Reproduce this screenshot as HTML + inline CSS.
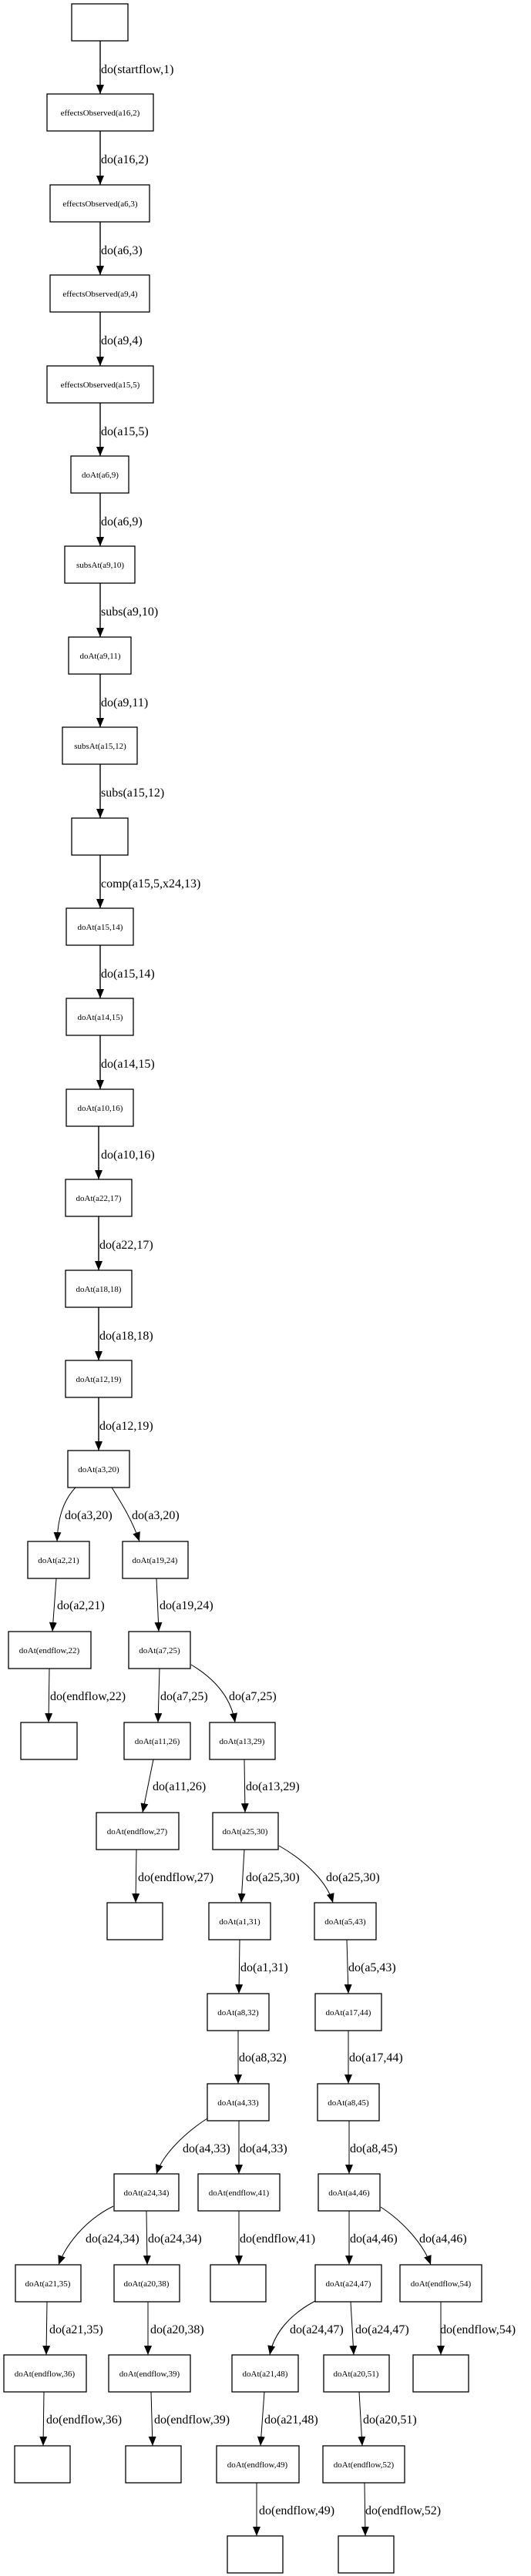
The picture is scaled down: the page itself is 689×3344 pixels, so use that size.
<!DOCTYPE html>
<html><head><meta charset="utf-8"><style>
html,body{margin:0;padding:0;background:#fff}
svg{display:block}
.n{fill:#fff;stroke:#000;stroke-width:1.3}
.t{font-family:"Liberation Serif",serif;font-size:11px;text-anchor:middle}
.l{font-family:"Liberation Serif",serif;font-size:16px}
.e{fill:none;stroke:#000;stroke-width:1.4}
.c{fill:none;stroke:#000;stroke-width:1}
</style></head><body>
<svg width="689" height="3344" viewBox="0 0 689 3344" xmlns="http://www.w3.org/2000/svg">
<defs>
<marker id="b" markerWidth="12" markerHeight="10" refX="12" refY="5" orient="auto" markerUnits="userSpaceOnUse"><path d="M0,0 L12,5 L0,10 z" fill="#000"/></marker></defs>

<rect class="n" x="93" y="5" width="73" height="48"/>
<rect class="n" x="61" y="122" width="138" height="48"/><text class="t" x="130" y="150">effectsObserved(a16,2)</text>
<rect class="n" x="65" y="240" width="129" height="48"/><text class="t" x="130" y="268">effectsObserved(a6,3)</text>
<rect class="n" x="65" y="357" width="129" height="48"/><text class="t" x="130" y="385">effectsObserved(a9,4)</text>
<rect class="n" x="61" y="475" width="138" height="48"/><text class="t" x="130" y="503">effectsObserved(a15,5)</text>
<rect class="n" x="92" y="592" width="75" height="48"/><text class="t" x="130" y="620">doAt(a6,9)</text>
<rect class="n" x="84" y="709" width="91" height="48"/><text class="t" x="130" y="737">subsAt(a9,10)</text>
<rect class="n" x="89" y="827" width="81" height="48"/><text class="t" x="130" y="855">doAt(a9,11)</text>
<rect class="n" x="81" y="944" width="97" height="48"/><text class="t" x="130" y="972">subsAt(a15,12)</text>
<rect class="n" x="93" y="1062" width="73" height="48"/>
<rect class="n" x="86" y="1179" width="87" height="48"/><text class="t" x="130" y="1207">doAt(a15,14)</text>
<rect class="n" x="86" y="1296" width="87" height="48"/><text class="t" x="130" y="1324">doAt(a14,15)</text>
<rect class="n" x="86" y="1414" width="87" height="48"/><text class="t" x="130" y="1442">doAt(a10,16)</text>
<rect class="n" x="85" y="1531" width="86" height="48"/><text class="t" x="128" y="1559">doAt(a22,17)</text>
<rect class="n" x="85" y="1649" width="86" height="48"/><text class="t" x="128" y="1677">doAt(a18,18)</text>
<rect class="n" x="85" y="1766" width="86" height="48"/><text class="t" x="128" y="1794">doAt(a12,19)</text>
<rect class="n" x="88" y="1883" width="80" height="48"/><text class="t" x="128" y="1911">doAt(a3,20)</text>

<g class="e" marker-end="url(#b)">
<path d="M130,53 V122"/><path d="M130,170 V240"/><path d="M130,288 V357"/><path d="M130,405 V475"/><path d="M130,523 V592"/>
<path d="M130,640 V709"/><path d="M130,757 V827"/><path d="M130,875 V944"/><path d="M130,992 V1062"/><path d="M130,1110 V1179"/>
<path d="M130,1227 V1296"/><path d="M130,1344 V1414"/><path d="M128,1462 V1531"/><path d="M128,1579 V1649"/><path d="M128,1697 V1766"/><path d="M128,1814 V1883"/>
</g>
<g class="l">
<text x="131" y="95">do(startflow,1)</text>
<text x="131" y="212">do(a16,2)</text>
<text x="131" y="330">do(a6,3)</text>
<text x="131" y="447">do(a9,4)</text>
<text x="131" y="565">do(a15,5)</text>
<text x="131" y="682">do(a6,9)</text>
<text x="131" y="799">subs(a9,10)</text>
<text x="131" y="917">do(a9,11)</text>
<text x="131" y="1034">subs(a15,12)</text>
<text x="131" y="1152">comp(a15,5,x24,13)</text>
<text x="131" y="1269">do(a15,14)</text>
<text x="131" y="1386">do(a14,15)</text>
<text x="131" y="1504">do(a10,16)</text>
<text x="129" y="1621">do(a22,17)</text>
<text x="129" y="1739">do(a18,18)</text>
<text x="129" y="1856">do(a12,19)</text>
</g>

<rect class="n" x="36" y="2001" width="80" height="48"/><text class="t" x="76" y="2029">doAt(a2,21)</text>
<rect class="n" x="159" y="2001" width="85" height="48"/><text class="t" x="201" y="2029">doAt(a19,24)</text>
<rect class="n" x="11" y="2118" width="107" height="48"/><text class="t" x="64" y="2146">doAt(endflow,22)</text>
<rect class="n" x="167" y="2118" width="80" height="48"/><text class="t" x="207" y="2146">doAt(a7,25)</text>
<rect class="n" x="27" y="2236" width="73" height="48"/>
<rect class="n" x="161" y="2236" width="86" height="48"/><text class="t" x="204" y="2264">doAt(a11,26)</text>
<rect class="n" x="272" y="2236" width="85" height="48"/><text class="t" x="314" y="2264">doAt(a13,29)</text>
<rect class="n" x="125" y="2353" width="107" height="48"/><text class="t" x="178" y="2381">doAt(endflow,27)</text>
<rect class="n" x="276" y="2353" width="85" height="48"/><text class="t" x="318" y="2381">doAt(a25,30)</text>
<rect class="n" x="139" y="2470" width="72" height="48"/>
<rect class="n" x="271" y="2470" width="80" height="48"/><text class="t" x="311" y="2498">doAt(a1,31)</text>
<rect class="n" x="408" y="2470" width="80" height="48"/><text class="t" x="448" y="2498">doAt(a5,43)</text>
<rect class="n" x="269" y="2588" width="80" height="48"/><text class="t" x="309" y="2616">doAt(a8,32)</text>
<rect class="n" x="409" y="2588" width="86" height="48"/><text class="t" x="452" y="2616">doAt(a17,44)</text>
<rect class="n" x="269" y="2705" width="80" height="48"/><text class="t" x="309" y="2733">doAt(a4,33)</text>
<rect class="n" x="412" y="2705" width="80" height="48"/><text class="t" x="452" y="2733">doAt(a8,45)</text>
<rect class="n" x="148" y="2822" width="84" height="48"/><text class="t" x="190" y="2850">doAt(a24,34)</text>
<rect class="n" x="257" y="2822" width="106" height="48"/><text class="t" x="310" y="2850">doAt(endflow,41)</text>
<rect class="n" x="413" y="2822" width="80" height="48"/><text class="t" x="453" y="2850">doAt(a4,46)</text>
<rect class="n" x="20" y="2940" width="85" height="48"/><text class="t" x="62" y="2968">doAt(a21,35)</text>
<rect class="n" x="148" y="2940" width="85" height="48"/><text class="t" x="190" y="2968">doAt(a20,38)</text>
<rect class="n" x="273" y="2940" width="72" height="48"/>
<rect class="n" x="409" y="2940" width="86" height="48"/><text class="t" x="452" y="2968">doAt(a24,47)</text>
<rect class="n" x="519" y="2940" width="106" height="48"/><text class="t" x="572" y="2968">doAt(endflow,54)</text>
<rect class="n" x="5" y="3057" width="107" height="48"/><text class="t" x="58" y="3085">doAt(endflow,36)</text>
<rect class="n" x="141" y="3057" width="106" height="48"/><text class="t" x="194" y="3085">doAt(endflow,39)</text>
<rect class="n" x="301" y="3057" width="86" height="48"/><text class="t" x="344" y="3085">doAt(a21,48)</text>
<rect class="n" x="420" y="3057" width="85" height="48"/><text class="t" x="462" y="3085">doAt(a20,51)</text>
<rect class="n" x="536" y="3057" width="72" height="48"/>
<rect class="n" x="19" y="3175" width="72" height="48"/>
<rect class="n" x="163" y="3175" width="72" height="48"/>
<rect class="n" x="281" y="3175" width="107" height="48"/><text class="t" x="334" y="3203">doAt(endflow,49)</text>
<rect class="n" x="419" y="3175" width="106" height="48"/><text class="t" x="472" y="3203">doAt(endflow,52)</text>
<rect class="n" x="295" y="3292" width="72" height="48"/>
<rect class="n" x="439" y="3292" width="72" height="48"/>

<g class="c" marker-end="url(#b)">
<path d="M98,1931 C80,1950 75,1975 74,2001"/>
<path d="M145,1931 C160,1955 172,1975 181,2001"/>
<path d="M73,2049 L68,2118"/>
<path d="M203,2049 L206,2118"/>
<path d="M64,2166 L63,2236"/>
<path d="M207,2166 L205,2236"/>
<path d="M248,2161 C280,2180 300,2205 305,2236"/>
<path d="M199,2284 L185,2353"/>
<path d="M317,2284 L318,2353"/>
<path d="M177,2401 L176,2470"/>
<path d="M317,2401 L313,2470"/>
<path d="M362,2396 C400,2418 425,2445 432,2470"/>
<path d="M311,2518 L310,2588"/>
<path d="M450,2518 L452,2588"/>
<path d="M309,2636 L309,2705"/>
<path d="M452,2636 L452,2705"/>
<path d="M269,2750 C235,2772 210,2800 203,2822"/>
<path d="M310,2753 L310,2822"/>
<path d="M453,2753 L453,2822"/>
<path d="M147,2864 C110,2882 85,2915 76,2940"/>
<path d="M190,2870 L191,2940"/>
<path d="M310,2870 L310,2940"/>
<path d="M453,2870 L453,2940"/>
<path d="M494,2865 C525,2885 550,2915 559,2940"/>
<path d="M61,2988 L60,3057"/>
<path d="M192,2988 L192,3057"/>
<path d="M409,2987 C375,3005 355,3030 350,3057"/>
<path d="M455,2988 L459,3057"/>
<path d="M572,2988 L572,3057"/>
<path d="M57,3105 L56,3175"/>
<path d="M196,3105 L198,3175"/>
<path d="M343,3105 L338,3175"/>
<path d="M466,3105 L470,3175"/>
<path d="M333,3223 L333,3292"/>
<path d="M473,3223 L474,3292"/>
</g>
<g class="l">
<text x="84" y="1972">do(a3,20)</text>
<text x="171" y="1972">do(a3,20)</text>
<text x="74" y="2089">do(a2,21)</text>
<text x="207" y="2089">do(a19,24)</text>
<text x="65" y="2207">do(endflow,22)</text>
<text x="208" y="2207">do(a7,25)</text>
<text x="297" y="2207">do(a7,25)</text>
<text x="198" y="2324">do(a11,26)</text>
<text x="319" y="2324">do(a13,29)</text>
<text x="179" y="2442">do(endflow,27)</text>
<text x="319" y="2442">do(a25,30)</text>
<text x="423" y="2442">do(a25,30)</text>
<text x="312" y="2559">do(a1,31)</text>
<text x="452" y="2559">do(a5,43)</text>
<text x="310" y="2676">do(a8,32)</text>
<text x="453" y="2676">do(a17,44)</text>
<text x="237" y="2794">do(a4,33)</text>
<text x="311" y="2794">do(a4,33)</text>
<text x="454" y="2794">do(a8,45)</text>
<text x="111" y="2911">do(a24,34)</text>
<text x="192" y="2911">do(a24,34)</text>
<text x="311" y="2911">do(endflow,41)</text>
<text x="454" y="2911">do(a4,46)</text>
<text x="544" y="2911">do(a4,46)</text>
<text x="64" y="3029">do(a21,35)</text>
<text x="195" y="3029">do(a20,38)</text>
<text x="376" y="3029">do(a24,47)</text>
<text x="461" y="3029">do(a24,47)</text>
<text x="571" y="3029">do(endflow,54)</text>
<text x="60" y="3146">do(endflow,36)</text>
<text x="200" y="3146">do(endflow,39)</text>
<text x="343" y="3146">do(a21,48)</text>
<text x="471" y="3146">do(a20,51)</text>
<text x="336" y="3264">do(endflow,49)</text>
<text x="474" y="3264">do(endflow,52)</text>
</g>
</svg>
</body></html>
